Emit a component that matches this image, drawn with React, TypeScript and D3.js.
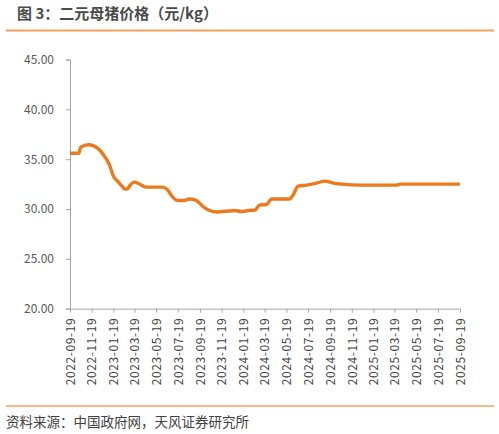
import * as d3 from "d3";
import { useEffect, useRef } from "react";

const dates = [
  "2022-09-19", "2022-10-14", "2022-10-19", "2022-11-10", "2022-12-12", "2022-12-21",
  "2023-01-07", "2023-01-19", "2023-02-02", "2023-02-12", "2023-02-21", "2023-02-27",
  "2023-03-07", "2023-03-19", "2023-04-08", "2023-04-21", "2023-06-07", "2023-06-21",
  "2023-07-01", "2023-07-19", "2023-08-02", "2023-08-21", "2023-09-07", "2023-09-28",
  "2023-10-17", "2023-11-05", "2023-11-19", "2023-12-12", "2023-12-26", "2024-01-14",
  "2024-02-02", "2024-02-21", "2024-03-05", "2024-03-24", "2024-04-07", "2024-05-28",
  "2024-06-07", "2024-06-21", "2024-07-15", "2024-08-12", "2024-09-04", "2024-09-28",
  "2024-10-22", "2024-12-13", "2025-03-25", "2025-04-04", "2025-09-19",
];
const prices = [
  35.6, 35.6, 36.2, 36.45, 35.9, 35.5,
  34.5, 33.3, 32.7, 32.3, 32.0, 32.0,
  32.4, 32.7, 32.4, 32.2, 32.2, 31.9,
  31.35, 30.85, 30.85, 31.0, 30.9, 30.25,
  29.85, 29.7, 29.75, 29.8, 29.85, 29.75,
  29.85, 29.9, 30.4, 30.45, 31.0, 31.0,
  31.4, 32.3, 32.4, 32.6, 32.8, 32.6,
  32.5, 32.4, 32.4, 32.5, 32.5,
];
const xTicks = [
  "2022-09-19", "2022-11-19", "2023-01-19", "2023-03-19", "2023-05-19", "2023-07-19",
  "2023-09-19", "2023-11-19", "2024-01-19", "2024-03-19", "2024-05-19", "2024-07-19",
  "2024-09-19", "2024-11-19", "2025-01-19", "2025-03-19", "2025-05-19", "2025-07-19",
  "2025-09-19",
];
const yTicks = [20, 25, 30, 35, 40, 45];

const title = "图 3：二元母猪价格（元/kg）";
const source = "资料来源：中国政府网，天风证券研究所";

export default function App() {
  const ref = useRef<SVGSVGElement>(null);

  useEffect(() => {
    if (!ref.current) return;
    const el = ref.current;
    d3.select(el).selectAll("*").remove();

    const W = 499;
    const H = 434;
    const font = "'Noto Sans CJK SC', 'Noto Sans', sans-serif";
    const axisColor = "#a6a6a6";
    const textColor = "#595959";
    const parse = d3.utcParse("%Y-%m-%d");

    const svg = d3.select(el).attr("width", W).attr("height", H).attr("viewBox", `0 0 ${W} ${H}`);

    // header
    svg.append("text")
      .attr("x", 17)
      .attr("y", 19)
      .attr("fill", "#4a4a4a")
      .attr("font-family", font)
      .attr("font-size", 15)
      .attr("font-weight", 700)
      .text(title);
    svg.append("line")
      .attr("x1", 6).attr("x2", 494).attr("y1", 30.5).attr("y2", 30.5)
      .attr("stroke", "#f4a15d").attr("stroke-width", 2);

    const x = d3.scaleUtc()
      .domain([parse(xTicks[0])!, parse(xTicks[xTicks.length - 1])!])
      .range([70, 460]);
    const y = d3.scaleLinear().domain([20, 45]).range([308.7, 59.5]);

    // y axis
    const gy = svg.append("g").attr("transform", "translate(70,0)");
    gy.call(d3.axisLeft(y).tickValues(yTicks).tickSize(4).tickPadding(12).tickFormat(d3.format(".2f")));
    gy.select(".domain").attr("stroke", axisColor);
    gy.selectAll(".tick line").attr("stroke", axisColor);
    gy.selectAll(".tick text")
      .attr("fill", textColor)
      .attr("font-family", font)
      .attr("font-size", 12);

    // x axis
    const gx = svg.append("g").attr("transform", `translate(0,${y(20)})`);
    gx.call(d3.axisBottom(x).tickValues(xTicks.map(d => parse(d)!)).tickSize(4).tickSizeOuter(0).tickFormat(d3.utcFormat("%Y-%m-%d")));
    gx.select(".domain").attr("stroke", axisColor);
    gx.selectAll(".tick line").attr("stroke", axisColor);
    gx.selectAll(".tick text")
      .attr("fill", "#404040")
      .attr("font-family", font)
      .attr("font-size", 12)
      .attr("letter-spacing", 0.6)
      .attr("transform", "rotate(-90)")
      .attr("text-anchor", "end")
      .attr("x", -9)
      .attr("y", 0)
      .attr("dy", "0.35em");

    // line
    const data = dates.map((d, i) => ({ date: parse(d)!, value: prices[i] }));
    const line = d3.line<{ date: Date; value: number }>()
      .x(d => x(d.date))
      .y(d => y(d.value))
      .curve(d3.curveMonotoneX);
    svg.append("path")
      .datum(data)
      .attr("d", line)
      .attr("fill", "none")
      .attr("stroke", "#ec7a1c")
      .attr("stroke-width", 3.4)
      .attr("stroke-linejoin", "round");

    // footer
    svg.append("line")
      .attr("x1", 6).attr("x2", 494).attr("y1", 406).attr("y2", 406)
      .attr("stroke", "#f4a15d").attr("stroke-width", 1.5);
    svg.append("text")
      .attr("x", 6)
      .attr("y", 427)
      .attr("fill", "#404040")
      .attr("font-family", font)
      .attr("font-size", 13.5)
      .text(source);
  }, []);

  return (
    <div style={{ position: "absolute", left: 0, top: 0 }}>
      <svg ref={ref} style={{ display: "block" }} />
    </div>
  );
}
